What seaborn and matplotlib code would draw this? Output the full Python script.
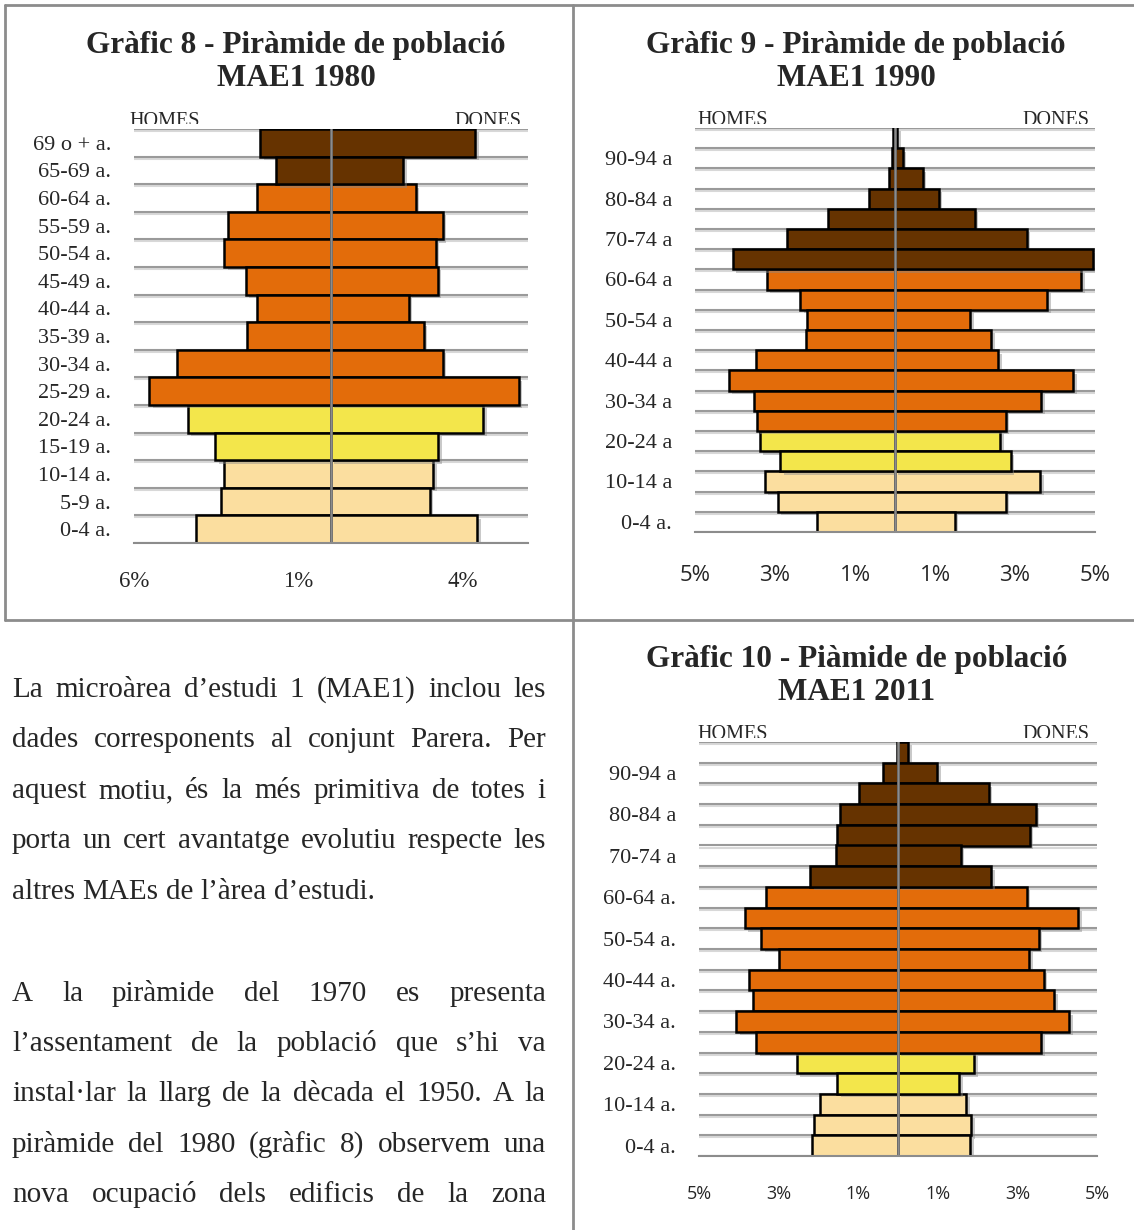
import matplotlib
matplotlib.use("Agg")
import pandas as pd
import seaborn as sns
import matplotlib.pyplot as plt
import matplotlib.patheffects as pe
from matplotlib.lines import Line2D
from matplotlib.transforms import Bbox, TransformedBbox, offset_copy

sns.set_style("white")
plt.rcParams['font.family'] = ['Liberation Serif', 'DejaVu Serif']

W, H = 1134, 1230

# --- dades (de 0-4 a cap amunt) ---
edats_1980 = ["0-4 a.", "5-9 a.", "10-14 a.", "15-19 a.", "20-24 a.", "25-29 a.", "30-34 a.",
              "35-39 a.", "40-44 a.", "45-49 a.", "50-54 a.", "55-59 a.", "60-64 a.", "65-69 a.",
              "69 o + a."]
homes_1980 = [4.11, 3.34, 3.26, 3.52, 4.37, 5.53, 4.70, 2.56, 2.25, 2.59, 3.25, 3.13, 2.24, 1.66, 2.15]
dones_1980 = [4.46, 3.00, 3.12, 3.26, 4.64, 5.72, 3.40, 2.82, 2.37, 3.25, 3.19, 3.40, 2.58, 2.20, 4.40]

edats_1990 = ["0-4 a.", "5-9 a", "10-14 a", "15-19 a", "20-24 a", "25-29 a", "30-34 a", "35-39 a",
              "40-44 a", "45-49 a", "50-54 a", "55-59 a", "60-64 a", "65-69 a", "70-74 a", "75-79 a",
              "80-84 a", "85-89 a", "90-94 a", "95 o + a"]
homes_1990 = [1.96, 2.93, 3.26, 2.87, 3.38, 3.46, 3.53, 4.15, 3.48, 2.22, 2.20, 2.37, 3.21, 4.05,
              2.70, 1.67, 0.66, 0.14, 0.08, 0.04]
dones_1990 = [1.50, 2.77, 3.63, 2.90, 2.63, 2.77, 3.66, 4.46, 2.58, 2.41, 1.88, 3.81, 4.66, 4.95,
              3.30, 2.00, 1.10, 0.69, 0.19, 0.06]

edats_2011 = ["0-4 a.", "5-9 a.", "10-14 a.", "15-19 a.", "20-24 a.", "25-29 a.", "30-34 a.",
              "35-39 a.", "40-44 a.", "45-49 a.", "50-54 a.", "55-59 a.", "60-64 a.", "65-69 a",
              "70-74 a", "75-79 a", "80-84 a", "85-89 a", "90-94 a", "95 o + a"]
homes_2011 = [2.15, 2.10, 1.97, 1.53, 2.54, 3.56, 4.06, 3.65, 3.74, 2.99, 3.43, 3.85, 3.32, 2.21,
              1.56, 1.54, 1.46, 0.99, 0.38, 0.03]
dones_2011 = [1.81, 1.84, 1.72, 1.54, 1.92, 3.60, 4.30, 3.93, 3.66, 3.30, 3.54, 4.53, 3.24, 2.34,
              1.58, 3.31, 3.46, 2.28, 0.99, 0.26]

colors = {"0-14": "#FBDE9F", "15-24": "#F3E64B", "25-64": "#E36C0A", "65+": "#663300"}

paragraf = [
    "La microàrea d’estudi 1 (MAE1) inclou les",
    "dades corresponents al conjunt Parera. Per",
    "aquest motiu, és la més primitiva de totes i",
    "porta un cert avantatge evolutiu respecte les",
    "altres MAEs de l’àrea d’estudi.",
    "A la piràmide del 1970 es presenta",
    "l’assentament de la població que s’hi va",
    "instal·lar la llarg de la dècada el 1950. A la",
    "piràmide del 1980 (gràfic 8) observem una",
    "nova ocupació dels edificis de la zona",
]

GRIS = "#8c8c8c"
fig = plt.figure(figsize=(W / 100, H / 100), dpi=100)


def rect(x0, y0, x1, y1):
    return [x0 / W, 1 - y1 / H, (x1 - x0) / W, (y1 - y0) / H]


def piramide(caixa, edats, homes, dones, lim, ticks, step, xfont, xsize, xpad, hx, dx):
    ax = fig.add_axes(caixa)
    n = len(edats)
    grups = ["0-14"] * 3 + ["15-24"] * 2 + ["25-64"] * 8 + ["65+"] * (n - 13)
    df = pd.DataFrame({"edat": edats, "homes": [-v for v in homes], "dones": dones, "grup": grups})
    for col in ["homes", "dones"]:
        sns.barplot(data=df, x=col, y="edat", hue="grup", order=edats[::-1], palette=colors,
                    saturation=1, dodge=False, width=1.0, edgecolor="black", linewidth=1.8,
                    errorbar=None, legend=False, ax=ax)
    for p in ax.patches:
        p.set_zorder(2)
        p.set_path_effects([pe.SimplePatchShadow(offset=(2.5, -2.5), shadow_rgbFace="#888888", alpha=0.45),
                            pe.Normal()])
    for k in range(n + 1):
        ax.axhline(k - 0.5, color="#9a9a9a", lw=1.5, zorder=1,
                   path_effects=[pe.SimpleLineShadow(offset=(0, -1.5), shadow_color="#d8d8d8", alpha=1),
                                 pe.Normal()])
    ax.axvline(0, color=GRIS, lw=1.8, zorder=5)
    ax.set_xlim(-lim, lim)
    ax.set_ylim(n - 0.5, -0.5)
    ax.set_xlabel("")
    ax.set_ylabel("")
    ax.set_xticks(ticks)
    ax.set_xticklabels([f"{abs(t)}%" for t in ticks], fontsize=xsize, family=xfont)
    ax.tick_params(axis="x", length=4, width=1.5, color=GRIS, pad=xpad, direction="out")
    pos = [n - 1 - i for i in range(0, n, step)]
    ax.set_yticks(pos)
    ax.set_yticklabels(edats[::step], fontsize=16)
    ax.tick_params(axis="y", length=0, pad=16.5)
    for s in ["top", "left", "right"]:
        ax.spines[s].set_visible(False)
    ax.spines["bottom"].set_color(GRIS)
    ax.spines["bottom"].set_linewidth(1.5)
    # HOMES / DONES, tallats just per sobre de la línia superior
    clip = TransformedBbox(Bbox([[-0.2, 1.0], [1.2, 1.5]]), ax.transAxes)
    clip = Bbox.from_extents(clip.x0, clip.y0 + 4.5, clip.x1, clip.y1)
    tr = offset_copy(ax.transAxes, fig=fig, y=3, units="dots")
    for x, t in [(hx, "HOMES"), (dx, "DONES")]:
        txt = ax.text(x, 1, t, transform=tr, ha="center", va="baseline", fontsize=14.5,
                      clip_on=True)
        txt.set_clip_box(clip)
    return ax


piramide(rect(134, 129, 528, 543), edats_1980, homes_1980, dones_1980, 6, [-6, -1, 4], 1,
         ["Liberation Serif"], 16.5, 16, 0.079, 0.898)
piramide(rect(695, 128, 1095, 532), edats_1990, homes_1990, dones_1990, 5, [-5, -3, -1, 1, 3, 5], 2,
         ["Open Sans", "DejaVu Sans"], 16, 20, 0.095, 0.9025)
piramide(rect(699, 742, 1097, 1156), edats_2011, homes_2011, dones_2011, 5, [-5, -3, -1, 1, 3, 5], 2,
         ["Open Sans", "DejaVu Sans"], 13, 17, 0.085, 0.897)

# títols
titols = [(296, 45, "Gràfic 8 - Piràmide de població"), (296, 79, "MAE1 1980"),
          (856, 45, "Gràfic 9 - Piràmide de població"), (856, 79, "MAE1 1990"),
          (857, 659, "Gràfic 10 - Piàmide de població"), (857, 693, "MAE1 2011")]
for x, y, t in titols:
    fig.text(x / W, 1 - y / H, t, ha="center", va="center", fontsize=22.5, fontweight="bold")

# marcs
for (x0, y0, x1, y1) in [(5, 5, 1134, 5), (5, 5, 5, 620), (573, 5, 573, 1230), (5, 620, 1134, 620)]:
    fig.add_artist(Line2D([x0 / W, x1 / W], [1 - y0 / H, 1 - y1 / H], transform=fig.transFigure,
                          color=GRIS, lw=2))

# text justificat
fig.canvas.draw()
renderer = fig.canvas.get_renderer()
baselines = [697, 747, 798, 848, 899, 1001, 1051, 1101, 1152, 1202]
X0, X1 = 12, 546
MIDA = 21
for i, (linia, yb) in enumerate(zip(paragraf, baselines)):
    paraules = linia.split(" ")
    objs = [fig.text(0, 1 - yb / H, p, fontsize=MIDA, va="baseline", ha="left") for p in paraules]
    amples = [o.get_window_extent(renderer).width for o in objs]
    if i == 4:
        gap = MIDA * 100 / 72 * 0.25
    else:
        gap = (X1 - X0 - sum(amples)) / (len(paraules) - 1)
    x = X0
    for o, a in zip(objs, amples):
        o.set_x(x / W)
        x += a + gap

fig.savefig("out.png", dpi=100)
